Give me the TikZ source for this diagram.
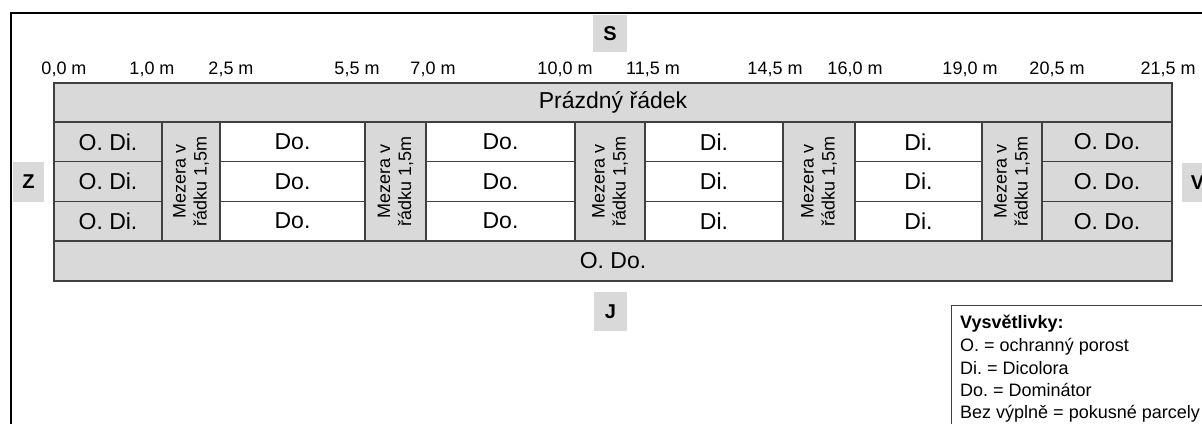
\documentclass[tikz,border=0pt]{standalone}
\usepackage{fontspec}
\setmainfont{Liberation Sans}
\definecolor{greyc}{HTML}{D9D9D9}
\definecolor{linec}{HTML}{404040}
\begin{document}
\frenchspacing
\begin{tikzpicture}[x=1pt,y=-1pt,
  cellg/.style={draw=linec, fill=greyc, line width=1.5pt, inner sep=0pt, outer sep=0pt, font=\fontsize{23}{27}\selectfont},
  cellw/.style={cellg, fill=white},
  gapc/.style={cellg, rotate=90, align=center, font=\fontsize{18}{21}\selectfont},
  scalelbl/.style={inner sep=0pt, font=\fontsize{18}{20}\selectfont},
  dirbox/.style={fill=greyc, inner sep=0pt, font=\bfseries\fontsize{20}{22}\selectfont},
  legtxt/.style={anchor=base west, inner sep=0pt, font=\fontsize{18}{20}\selectfont},
  legbox/.style={draw=linec, line width=1pt},
  frame/.style={draw=black, line width=2.5pt}]
\useasboundingbox (0,0) rectangle (1202,423);
\clip (0,0) rectangle (1202,423);
\fill[white] (0,0) rectangle (1202,423);
% outer frame
\draw[frame] (11,440) -- (11,13) -- (1215,13);
% direction boxes
\node[dirbox, minimum width=34pt, minimum height=37pt] (S) at (610,33.5) {S};
\node[dirbox, minimum width=31pt, minimum height=40pt] (Z) at (28.5,182) {Z};
\node[dirbox, minimum width=31pt, minimum height=39pt] (V) at (1197.5,182.5) {V};
\node[dirbox, minimum width=33pt, minimum height=39pt] (J) at (610.5,311.5) {J};
% scale labels
\foreach \x/\t [count=\i] in {64/{0,0 m},152/{1,0 m},231/{2,5 m},357/{5,5 m},433/{7,0 m},565/{10,0 m},653/{11,5 m},775/{14,5 m},855/{16,0 m},970/{19,0 m},1057/{20,5 m},1168/{21,5 m}}{
  \node[scalelbl] (s\i) at (\x,69) {\t};
}
% top and bottom rows
\node[cellg, minimum width=1118pt, minimum height=39pt] (top) at (613,102.5) {Prázdný řádek};
\node[cellg, minimum width=1118pt, minimum height=40pt] (bot) at (613,261) {O. Do.};
% plot cells
\foreach \cx/\w/\sty/\t/\n in {108/108/cellg/{O. Di.}/a, 292.5/145/cellw/{Do.}/b, 500.5/149/cellw/{Do.}/c, 714/138/cellw/{Di.}/d, 918.5/127/cellw/{Di.}/e, 1107/130/cellg/{O. Do.}/f}{
  \foreach \r/\cy in {1/141.83,2/181.5,3/221.17}{
    \node[\sty, minimum width=\w pt, minimum height=39.67pt] (\n\r) at (\cx,\cy) {\t};
  }
}
% gap columns
\foreach \cx/\w/\n in {191/58/1, 395.5/61/2, 610/70/3, 819/72/4, 1012/60/5}{
  \node[gapc, minimum width=119pt, minimum height=\w pt] (gap\n) at (\cx,181.5) {Mezera v\\řádku 1,5m};
}
% legend
\draw[legbox] (951,305.5) rectangle (1220,440);
\node[legtxt, font=\bfseries\fontsize{18}{20}\selectfont] (l0) at (960,328) {Vysvětlivky:};
\node[legtxt] (l1) at (960,351) {O. = ochranný porost};
\node[legtxt] (l2) at (960,374) {Di. = Dicolora};
\node[legtxt] (l3) at (960,396.5) {Do. = Dominátor};
\node[legtxt] (l4) at (960,418.5) {Bez výplně = pokusné parcely};
\end{tikzpicture}
\end{document}
